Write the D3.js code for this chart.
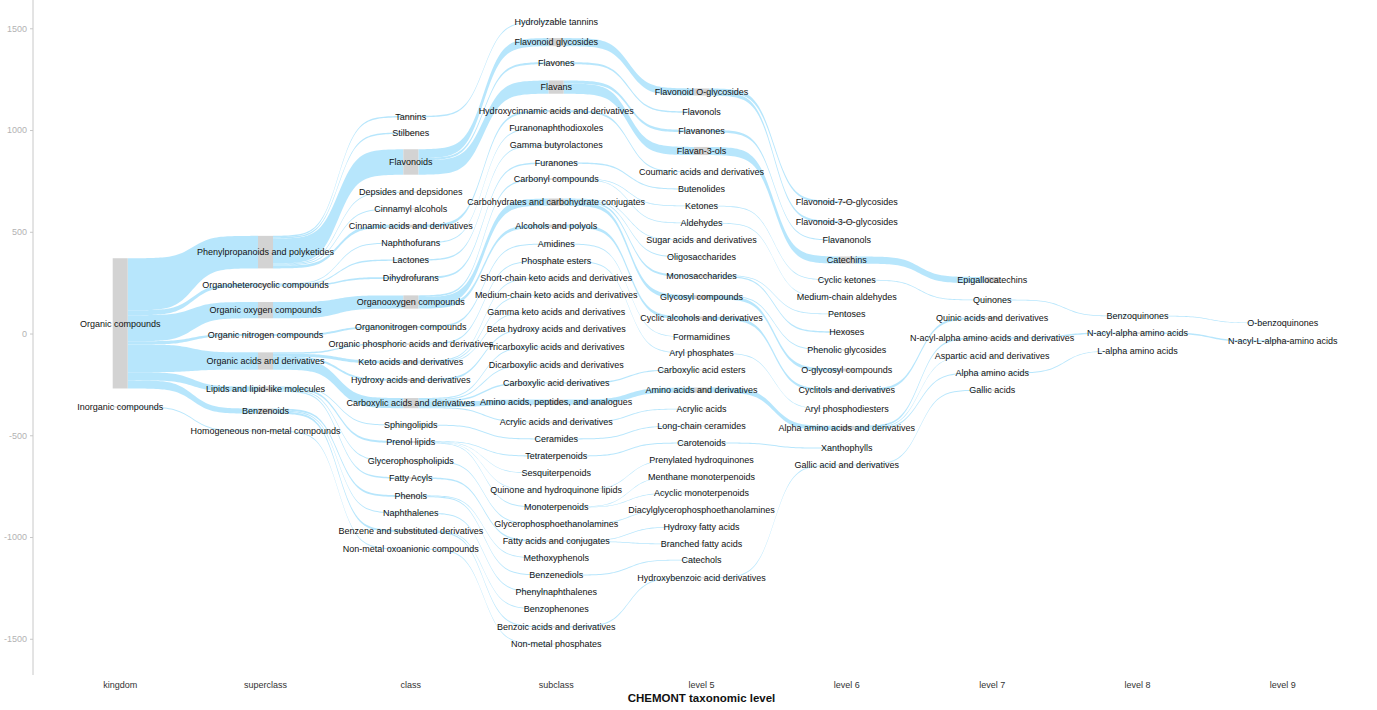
<!DOCTYPE html>
<html>
<head>
<meta charset="utf-8">
<script src="https://cdn.jsdelivr.net/npm/d3@7"></script>
<style>
body { margin: 0; background: #fff; }
svg { display: block; font-family: "Liberation Sans", Arial, sans-serif; }
</style>
</head>
<body>
<div id="chart"></div>
<script>
const levels = [ "kingdom", "superclass", "class", "subclass", "level 5", "level 6", "level 7", "level 8", "level 9" ];
const yTicks = [ -1500, -1000, -500, 0, 500, 1000, 1500 ];

// each node: [ name, parent, y centre, count ]
const kingdom = [
	[ "Organic compounds", null, 50, 640 ],
	[ "Inorganic compounds", null, -361, 5 ]
];
const superclass = [
	[ "Phenylpropanoids and polyketides", "Organic compounds", 400, 160 ],
	[ "Organoheterocyclic compounds", "Organic compounds", 238, 15 ],
	[ "Organic oxygen compounds", "Organic compounds", 115, 80 ],
	[ "Organic nitrogen compounds", "Organic compounds", -7, 10 ],
	[ "Organic acids and derivatives", "Organic compounds", -135, 85 ],
	[ "Lipids and lipid-like molecules", "Organic compounds", -273, 25 ],
	[ "Benzenoids", "Organic compounds", -381, 25 ],
	[ "Homogeneous non-metal compounds", "Inorganic compounds", -479, 5 ]
];
const classes = [
	[ "Tannins", "Phenylpropanoids and polyketides", 1066, 7 ],
	[ "Stilbenes", "Phenylpropanoids and polyketides", 985, 7 ],
	[ "Flavonoids", "Phenylpropanoids and polyketides", 843, 125 ],
	[ "Depsides and depsidones", "Phenylpropanoids and polyketides", 695, 5 ],
	[ "Cinnamyl alcohols", "Phenylpropanoids and polyketides", 612, 5 ],
	[ "Cinnamic acids and derivatives", "Phenylpropanoids and polyketides", 528, 14 ],
	[ "Naphthofurans", "Organoheterocyclic compounds", 445, 5 ],
	[ "Lactones", "Organoheterocyclic compounds", 361, 7 ],
	[ "Dihydrofurans", "Organoheterocyclic compounds", 273, 9 ],
	[ "Organooxygen compounds", "Organic oxygen compounds", 155, 65 ],
	[ "Organonitrogen compounds", "Organic nitrogen compounds", 32, 9 ],
	[ "Organic phosphoric acids and derivatives", "Organic acids and derivatives", -52, 7 ],
	[ "Keto acids and derivatives", "Organic acids and derivatives", -140, 14 ],
	[ "Hydroxy acids and derivatives", "Organic acids and derivatives", -228, 10 ],
	[ "Carboxylic acids and derivatives", "Organic acids and derivatives", -342, 50 ],
	[ "Sphingolipids", "Lipids and lipid-like molecules", -450, 5 ],
	[ "Prenol lipids", "Lipids and lipid-like molecules", -533, 10 ],
	[ "Glycerophospholipids", "Lipids and lipid-like molecules", -627, 5 ],
	[ "Fatty Acyls", "Lipids and lipid-like molecules", -710, 7 ],
	[ "Phenols", "Benzenoids", -799, 9 ],
	[ "Naphthalenes", "Benzenoids", -882, 5 ],
	[ "Benzene and substituted derivatives", "Benzenoids", -971, 10 ],
	[ "Non-metal oxoanionic compounds", "Homogeneous non-metal compounds", -1059, 5 ]
];
const subclass = [
	[ "Hydrolyzable tannins", "Tannins", 1533, 5 ],
	[ "Flavonoid glycosides", "Flavonoids", 1432, 40 ],
	[ "Flavones", "Flavonoids", 1329, 10 ],
	[ "Flavans", "Flavonoids", 1211, 65 ],
	[ "Hydroxycinnamic acids and derivatives", "Cinnamic acids and derivatives", 1093, 10 ],
	[ "Furanonaphthodioxoles", "Naphthofurans", 1010, 5 ],
	[ "Gamma butyrolactones", "Lactones", 926, 5 ],
	[ "Furanones", "Dihydrofurans", 838, 7 ],
	[ "Carbonyl compounds", "Organooxygen compounds", 759, 7 ],
	[ "Carbohydrates and carbohydrate conjugates", "Organooxygen compounds", 646, 35 ],
	[ "Alcohols and polyols", "Organooxygen compounds", 528, 15 ],
	[ "Amidines", "Organonitrogen compounds", 440, 5 ],
	[ "Phosphate esters", "Organic phosphoric acids and derivatives", 356, 5 ],
	[ "Short-chain keto acids and derivatives", "Keto acids and derivatives", 273, 5 ],
	[ "Medium-chain keto acids and derivatives", "Keto acids and derivatives", 189, 5 ],
	[ "Gamma keto acids and derivatives", "Keto acids and derivatives", 106, 4 ],
	[ "Beta hydroxy acids and derivatives", "Hydroxy acids and derivatives", 22, 5 ],
	[ "Tricarboxylic acids and derivatives", "Carboxylic acids and derivatives", -66, 5 ],
	[ "Dicarboxylic acids and derivatives", "Carboxylic acids and derivatives", -155, 5 ],
	[ "Carboxylic acid derivatives", "Carboxylic acids and derivatives", -243, 7 ],
	[ "Amino acids, peptides, and analogues", "Carboxylic acids and derivatives", -337, 25 ],
	[ "Acrylic acids and derivatives", "Carboxylic acids and derivatives", -435, 5 ],
	[ "Ceramides", "Sphingolipids", -518, 5 ],
	[ "Tetraterpenoids", "Prenol lipids", -602, 5 ],
	[ "Sesquiterpenoids", "Prenol lipids", -686, 3 ],
	[ "Quinone and hydroquinone lipids", "Prenol lipids", -769, 3 ],
	[ "Monoterpenoids", "Prenol lipids", -853, 5 ],
	[ "Glycerophosphoethanolamines", "Glycerophospholipids", -936, 5 ],
	[ "Fatty acids and conjugates", "Fatty Acyls", -1020, 7 ],
	[ "Methoxyphenols", "Phenols", -1103, 4 ],
	[ "Benzenediols", "Phenols", -1187, 5 ],
	[ "Phenylnaphthalenes", "Naphthalenes", -1270, 5 ],
	[ "Benzophenones", "Benzene and substituted derivatives", -1354, 4 ],
	[ "Benzoic acids and derivatives", "Benzene and substituted derivatives", -1442, 6 ],
	[ "Non-metal phosphates", "Non-metal oxoanionic compounds", -1526, 4 ]
];
const level5 = [
	[ "Flavonoid O-glycosides", "Flavonoid glycosides", 1187, 35 ],
	[ "Flavonols", "Flavones", 1088, 7 ],
	[ "Flavanones", "Flavans", 995, 12 ],
	[ "Flavan-3-ols", "Flavans", 897, 40 ],
	[ "Coumaric acids and derivatives", "Hydroxycinnamic acids and derivatives", 794, 5 ],
	[ "Butenolides", "Furanones", 710, 5 ],
	[ "Ketones", "Carbonyl compounds", 627, 4 ],
	[ "Aldehydes", "Carbonyl compounds", 543, 4 ],
	[ "Sugar acids and derivatives", "Carbohydrates and carbohydrate conjugates", 459, 4 ],
	[ "Oligosaccharides", "Carbohydrates and carbohydrate conjugates", 376, 5 ],
	[ "Monosaccharides", "Carbohydrates and carbohydrate conjugates", 283, 10 ],
	[ "Glycosyl compounds", "Carbohydrates and carbohydrate conjugates", 179, 20 ],
	[ "Cyclic alcohols and derivatives", "Alcohols and polyols", 76, 15 ],
	[ "Formamidines", "Amidines", -17, 3 ],
	[ "Aryl phosphates", "Phosphate esters", -96, 4 ],
	[ "Carboxylic acid esters", "Carboxylic acid derivatives", -179, 5 ],
	[ "Amino acids and derivatives", "Amino acids, peptides, and analogues", -278, 25 ],
	[ "Acrylic acids", "Acrylic acids and derivatives", -371, 4 ],
	[ "Long-chain ceramides", "Ceramides", -455, 4 ],
	[ "Carotenoids", "Tetraterpenoids", -538, 5 ],
	[ "Prenylated hydroquinones", "Quinone and hydroquinone lipids", -622, 3 ],
	[ "Menthane monoterpenoids", "Monoterpenoids", -705, 3 ],
	[ "Acyclic monoterpenoids", "Monoterpenoids", -784, 3 ],
	[ "Diacylglycerophosphoethanolamines", "Glycerophosphoethanolamines", -867, 3 ],
	[ "Hydroxy fatty acids", "Fatty acids and conjugates", -951, 4 ],
	[ "Branched fatty acids", "Fatty acids and conjugates", -1034, 4 ],
	[ "Catechols", "Benzenediols", -1113, 4 ],
	[ "Hydroxybenzoic acid derivatives", "Benzoic acids and derivatives", -1201, 5 ]
];
const level6 = [
	[ "Flavonoid-7-O-glycosides", "Flavonoid O-glycosides", 646, 10 ],
	[ "Flavonoid-3-O-glycosides", "Flavonoid O-glycosides", 548, 10 ],
	[ "Flavanonols", "Flavanones", 459, 5 ],
	[ "Catechins", "Flavan-3-ols", 361, 35 ],
	[ "Cyclic ketones", "Ketones", 263, 4 ],
	[ "Medium-chain aldehydes", "Aldehydes", 179, 3 ],
	[ "Pentoses", "Monosaccharides", 96, 4 ],
	[ "Hexoses", "Monosaccharides", 7, 7 ],
	[ "Phenolic glycosides", "Glycosyl compounds", -81, 5 ],
	[ "O-glycosyl compounds", "Glycosyl compounds", -179, 15 ],
	[ "Cyclitols and derivatives", "Cyclic alcohols and derivatives", -278, 12 ],
	[ "Aryl phosphodiesters", "Aryl phosphates", -371, 3 ],
	[ "Alpha amino acids and derivatives", "Amino acids and derivatives", -464, 20 ],
	[ "Xanthophylls", "Carotenoids", -563, 5 ],
	[ "Gallic acid and derivatives", "Hydroxybenzoic acid derivatives", -646, 5 ]
];
const level7 = [
	[ "Epigallocatechins", "Catechins", 263, 30 ],
	[ "Quinones", "Cyclic ketones", 165, 4 ],
	[ "Quinic acids and derivatives", "Cyclitols and derivatives", 76, 10 ],
	[ "N-acyl-alpha amino acids and derivatives", "Alpha amino acids and derivatives", -22, 7 ],
	[ "Aspartic acid and derivatives", "Alpha amino acids and derivatives", -111, 3 ],
	[ "Alpha amino acids", "Alpha amino acids and derivatives", -194, 5 ],
	[ "Gallic acids", "Gallic acid and derivatives", -278, 5 ]
];
const level8 = [
	[ "Benzoquinones", "Quinones", 86, 4 ],
	[ "N-acyl-alpha amino acids", "N-acyl-alpha amino acids and derivatives", 2, 7 ],
	[ "L-alpha amino acids", "Alpha amino acids", -86, 3 ]
];
const level9 = [
	[ "O-benzoquinones", "Benzoquinones", 52, 3 ],
	[ "N-acyl-L-alpha-amino acids", "N-acyl-alpha amino acids", -37, 7 ]
];

const nodeLevels = [ kingdom, superclass, classes, subclass, level5, level6, level7, level8, level9 ];

const width = 1377, height = 710;
const plotBottom = 675;
const halfW = 7.5;

const x = d3.scalePoint().domain( levels ).range( [ 33, 1370 ] ).padding( 0.6 );
const y = d3.scaleLinear().domain( [ -1678, 1639 ] ).range( [ plotBottom, 0 ] );
const pxPerUnit = y( 0 ) - y( 1 );

// build nodes
const nodes = [];
const lookup = nodeLevels.map( () => new Map() );
nodeLevels.forEach( ( arr, li ) => {
	arr.forEach( d => {
		const n = { name: d[0], parent: d[1], y: d[2], n: d[3], level: li, children: [] };
		n.h = n.n * pxPerUnit;
		n.top = y( n.y ) - n.h / 2;
		nodes.push( n );
		lookup[li].set( n.name, n );
	} );
} );
nodes.forEach( n => {
	if ( n.level > 0 && n.parent ) {
		const p = lookup[n.level - 1].get( n.parent );
		if ( p ) { p.children.push( n ); n.p = p; }
	}
} );

// links: stacked inside parent, top to bottom
const links = [];
nodes.forEach( p => {
	if ( !p.children.length ) return;
	p.children.sort( ( a, b ) => b.y - a.y );
	const total = d3.sum( p.children, c => c.n );
	const k = p.n / total;
	let off = p.top;
	p.children.forEach( c => {
		const w = c.n * k * pxPerUnit;
		links.push( {
			x0: x( levels[p.level] ) + halfW,
			x1: x( levels[c.level] ) - halfW,
			s0: off, s1: off + w,
			t0: c.top, t1: c.top + c.h
		} );
		off += w;
	} );
} );

const smooth = 7;
const sig = t => {
	const f = v => 1 / ( 1 + Math.exp( -v ) );
	const lo = f( -smooth ), hi = f( smooth );
	return ( f( ( t * 2 - 1 ) * smooth ) - lo ) / ( hi - lo );
};
const steps = d3.range( 0, 61 ).map( i => i / 60 );

function ribbon( l ) {
	const top = steps.map( t => [ l.x0 + t * ( l.x1 - l.x0 ), l.s0 + sig( t ) * ( l.t0 - l.s0 ) ] );
	const bot = steps.slice().reverse().map( t => [ l.x0 + t * ( l.x1 - l.x0 ), l.s1 + sig( t ) * ( l.t1 - l.s1 ) ] );
	return d3.line()( top.concat( bot ) ) + "Z";
}

const svg = d3.select( "#chart" ).append( "svg" )
	.attr( "width", width )
	.attr( "height", height )
	.attr( "viewBox", [ 0, 0, width, height ] );

svg.append( "rect" ).attr( "width", width ).attr( "height", height ).attr( "fill", "#fff" );

// y axis
const yAxis = svg.append( "g" )
	.attr( "transform", "translate(33,0)" )
	.call( d3.axisLeft( y ).tickValues( yTicks ).tickSize( 3 ).tickPadding( 3 ).tickFormat( d => String( d ) ) );
yAxis.select( ".domain" ).attr( "stroke", "#c8c8c8" ).attr( "d", `M0,0V${ plotBottom }` );
yAxis.selectAll( ".tick line" ).attr( "stroke", "#c8c8c8" );
yAxis.selectAll( ".tick text" ).attr( "fill", "#b3b3b3" ).style( "font-size", "9px" )
	.style( "font-family", "\"Liberation Sans\", Arial, sans-serif" );

// flows
svg.append( "g" )
	.selectAll( "path" )
	.data( links )
	.join( "path" )
	.attr( "d", ribbon )
	.attr( "fill", "#b3e5fc" )
	.attr( "fill-opacity", 0.95 );

// strata
svg.append( "g" )
	.selectAll( "rect" )
	.data( nodes )
	.join( "rect" )
	.attr( "x", d => x( levels[d.level] ) - halfW )
	.attr( "y", d => d.top )
	.attr( "width", halfW * 2 )
	.attr( "height", d => d.h )
	.attr( "fill", "#d3d3d3" );

// labels
svg.append( "g" )
	.selectAll( "text" )
	.data( nodes )
	.join( "text" )
	.attr( "x", d => x( levels[d.level] ) )
	.attr( "y", d => y( d.y ) )
	.attr( "dy", "0.35em" )
	.attr( "text-anchor", "middle" )
	.style( "font-size", "9px" )
	.attr( "fill", "#111" )
	.text( d => d.name );

// x labels
svg.append( "g" )
	.selectAll( "text" )
	.data( levels )
	.join( "text" )
	.attr( "x", d => x( d ) )
	.attr( "y", 688 )
	.attr( "text-anchor", "middle" )
	.style( "font-size", "9px" )
	.attr( "fill", "#333" )
	.text( d => d );

svg.append( "text" )
	.attr( "x", ( 33 + 1370 ) / 2 )
	.attr( "y", 702 )
	.attr( "text-anchor", "middle" )
	.style( "font-size", "11.5px" )
	.style( "font-weight", "bold" )
	.attr( "fill", "#111" )
	.text( "CHEMONT taxonomic level" );
</script>
</body>
</html>
